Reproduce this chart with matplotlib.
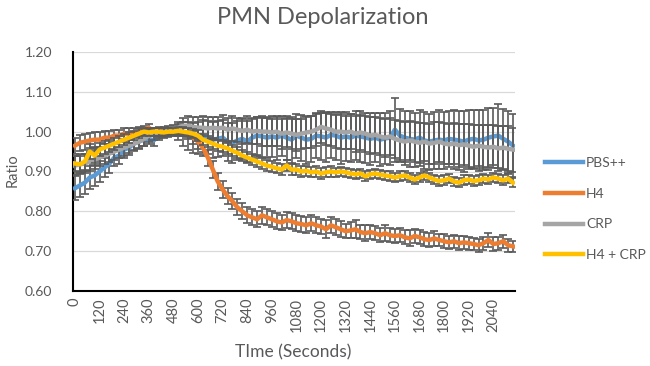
import matplotlib
matplotlib.use("Agg")
import matplotlib.pyplot as plt
from matplotlib.lines import Line2D
import numpy as np

plt.rcParams['font.family'] = ['Lato', 'DejaVu Sans']

title = "PMN Depolarization"
xlabel = "TIme (Seconds)"
ylabel = "Ratio"
time_step = 24
tick_labels = ["0", "120", "240", "360", "480", "600", "720", "840", "960", "1080",
               "1200", "1320", "1440", "1560", "1680", "1800", "1920", "2040"]
series_names = ["PBS++", "H4", "CRP", "H4 + CRP"]

pbs = [0.858, 0.865, 0.872, 0.885, 0.890, 0.900, 0.910, 0.920, 0.935, 0.940,
       0.955, 0.960, 0.970, 0.975, 0.980, 0.982, 0.978, 0.990, 0.995, 0.998,
       1.000, 1.000, 0.995, 0.990, 0.985, 0.985, 0.990, 0.985, 0.980, 0.982,
       0.985, 0.975, 0.972, 0.978, 0.982, 0.975, 0.985, 0.990, 0.988, 0.985,
       0.988, 0.985, 0.990, 0.985, 0.980, 0.990, 0.985, 0.980, 0.982, 0.990,
       0.988, 0.985, 0.992, 0.990, 0.985, 0.988, 0.985, 0.990, 0.988, 0.985,
       0.982, 0.985, 0.980, 0.983, 0.985, 1.005, 0.990, 0.985, 0.982, 0.980,
       0.985, 0.978, 0.975, 0.978, 0.980, 0.978, 0.982, 0.980, 0.978, 0.975,
       0.980, 0.982, 0.978, 0.980, 0.985, 0.988, 0.990, 0.982, 0.975, 0.965]

h4 = [0.965, 0.972, 0.975, 0.978, 0.980, 0.980, 0.985, 0.985, 0.990, 0.990,
      0.995, 0.995, 0.998, 1.000, 1.005, 1.010, 1.000, 1.000, 1.000, 1.000,
      1.000, 1.000, 1.000, 0.995, 0.985, 0.975, 0.960, 0.935, 0.905, 0.875,
      0.855, 0.838, 0.825, 0.810, 0.800, 0.790, 0.785, 0.780, 0.790, 0.785,
      0.780, 0.775, 0.772, 0.778, 0.775, 0.770, 0.768, 0.765, 0.770, 0.765,
      0.762, 0.755, 0.765, 0.760, 0.755, 0.750, 0.752, 0.755, 0.748, 0.745,
      0.748, 0.745, 0.740, 0.745, 0.740, 0.738, 0.740, 0.735, 0.732, 0.738,
      0.735, 0.730, 0.728, 0.732, 0.728, 0.725, 0.722, 0.725, 0.720, 0.722,
      0.720, 0.718, 0.715, 0.720, 0.728, 0.718, 0.720, 0.725, 0.715, 0.712]

crp = [0.915, 0.918, 0.920, 0.925, 0.930, 0.935, 0.940, 0.945, 0.950, 0.955,
       0.960, 0.965, 0.970, 0.975, 0.982, 0.990, 0.995, 0.998, 1.000, 1.002,
       1.005, 1.010, 1.015, 1.015, 1.012, 1.010, 1.010, 1.008, 1.010, 1.008,
       1.010, 1.005, 1.008, 1.005, 1.002, 1.005, 1.000, 1.002, 1.000, 1.000,
       0.998, 1.000, 0.995, 0.998, 0.995, 0.992, 0.995, 0.998, 1.000, 1.005,
       1.012, 1.008, 1.005, 1.000, 1.000, 0.998, 1.000, 0.995, 0.998, 0.995,
       0.990, 0.992, 0.988, 0.985, 0.988, 0.982, 0.978, 0.975, 0.978, 0.975,
       0.972, 0.975, 0.970, 0.972, 0.975, 0.970, 0.968, 0.970, 0.966, 0.968,
       0.965, 0.962, 0.965, 0.962, 0.960, 0.962, 0.958, 0.960, 0.957, 0.955]

h4_crp = [0.920, 0.918, 0.925, 0.950, 0.940, 0.955, 0.960, 0.965, 0.970, 0.975,
          0.980, 0.985, 0.990, 0.995, 1.000, 0.998, 1.000, 1.000, 0.998, 1.000,
          1.000, 1.002, 1.000, 0.998, 0.995, 0.990, 0.980, 0.975, 0.970, 0.965,
          0.962, 0.958, 0.952, 0.947, 0.940, 0.935, 0.930, 0.925, 0.920, 0.915,
          0.912, 0.908, 0.905, 0.915, 0.905, 0.905, 0.900, 0.902, 0.898, 0.900,
          0.895, 0.898, 0.900, 0.898, 0.900, 0.898, 0.895, 0.893, 0.895, 0.888,
          0.893, 0.895, 0.892, 0.890, 0.888, 0.885, 0.888, 0.890, 0.885, 0.880,
          0.885, 0.890, 0.885, 0.880, 0.876, 0.878, 0.882, 0.875, 0.872, 0.878,
          0.880, 0.876, 0.878, 0.882, 0.880, 0.885, 0.882, 0.878, 0.882, 0.872]

pbs_err = [0.030, 0.030, 0.028, 0.028, 0.027, 0.026, 0.025, 0.024, 0.022, 0.020,
           0.020, 0.018, 0.017, 0.016, 0.015, 0.014, 0.013, 0.012, 0.012, 0.011,
           0.010, 0.020, 0.030, 0.035, 0.038, 0.040, 0.040, 0.042, 0.045, 0.045,
           0.045, 0.048, 0.050, 0.048, 0.050, 0.052, 0.050, 0.048, 0.052, 0.050,
           0.052, 0.055, 0.050, 0.055, 0.058, 0.055, 0.058, 0.060, 0.058, 0.055,
           0.060, 0.062, 0.058, 0.060, 0.065, 0.062, 0.060, 0.062, 0.065, 0.063,
           0.065, 0.062, 0.066, 0.064, 0.068, 0.080, 0.066, 0.068, 0.070, 0.068,
           0.070, 0.072, 0.070, 0.072, 0.074, 0.072, 0.070, 0.074, 0.075, 0.076,
           0.074, 0.072, 0.076, 0.075, 0.074, 0.072, 0.080, 0.076, 0.078, 0.080]

h4_err = [0.020, 0.020, 0.020, 0.019, 0.018, 0.018, 0.017, 0.016, 0.015, 0.015,
          0.014, 0.013, 0.012, 0.012, 0.010, 0.008, 0.008, 0.008, 0.008, 0.008,
          0.008, 0.010, 0.012, 0.014, 0.016, 0.018, 0.020, 0.020, 0.022, 0.022,
          0.022, 0.020, 0.020, 0.020, 0.020, 0.020, 0.020, 0.020, 0.022, 0.020,
          0.020, 0.020, 0.020, 0.020, 0.020, 0.020, 0.020, 0.020, 0.020, 0.020,
          0.020, 0.022, 0.020, 0.020, 0.020, 0.018, 0.020, 0.022, 0.018, 0.020,
          0.018, 0.018, 0.018, 0.020, 0.018, 0.018, 0.018, 0.018, 0.020, 0.018,
          0.018, 0.018, 0.018, 0.018, 0.016, 0.018, 0.016, 0.016, 0.018, 0.016,
          0.016, 0.016, 0.016, 0.016, 0.018, 0.018, 0.016, 0.016, 0.016, 0.014]

crp_err = [0.025, 0.025, 0.024, 0.024, 0.023, 0.022, 0.022, 0.021, 0.020, 0.020,
           0.020, 0.019, 0.018, 0.018, 0.017, 0.016, 0.015, 0.014, 0.012, 0.012,
           0.012, 0.015, 0.020, 0.025, 0.025, 0.028, 0.030, 0.030, 0.028, 0.030,
           0.032, 0.030, 0.032, 0.030, 0.032, 0.034, 0.032, 0.034, 0.035, 0.036,
           0.035, 0.036, 0.038, 0.036, 0.038, 0.040, 0.038, 0.040, 0.040, 0.042,
           0.040, 0.042, 0.040, 0.042, 0.044, 0.042, 0.044, 0.045, 0.044, 0.045,
           0.046, 0.045, 0.046, 0.048, 0.046, 0.048, 0.048, 0.050, 0.048, 0.050,
           0.050, 0.048, 0.050, 0.052, 0.050, 0.052, 0.050, 0.052, 0.054, 0.052,
           0.054, 0.055, 0.052, 0.054, 0.056, 0.054, 0.056, 0.055, 0.056, 0.055]

h4_crp_err = [0.020, 0.020, 0.020, 0.018, 0.018, 0.017, 0.016, 0.015, 0.015, 0.014,
              0.014, 0.013, 0.012, 0.012, 0.010, 0.010, 0.010, 0.010, 0.010, 0.010,
              0.010, 0.010, 0.012, 0.012, 0.012, 0.013, 0.014, 0.014, 0.014, 0.014,
              0.014, 0.014, 0.014, 0.014, 0.014, 0.014, 0.014, 0.014, 0.014, 0.014,
              0.014, 0.013, 0.013, 0.013, 0.013, 0.013, 0.013, 0.013, 0.013, 0.013,
              0.013, 0.013, 0.013, 0.012, 0.012, 0.012, 0.012, 0.012, 0.012, 0.012,
              0.012, 0.012, 0.012, 0.012, 0.012, 0.012, 0.012, 0.012, 0.012, 0.012,
              0.012, 0.012, 0.012, 0.012, 0.012, 0.012, 0.012, 0.012, 0.012, 0.012,
              0.012, 0.012, 0.012, 0.012, 0.012, 0.012, 0.012, 0.012, 0.012, 0.012]

colors = ["#5B9BD5", "#ED7D31", "#A5A5A5", "#FFC000"]
text_color = "#595959"

fig = plt.figure(figsize=(6.5, 3.66), dpi=100)
ax = fig.add_axes([73/650, 1-291/366, (515-73)/650, (291-52)/366])

n = len(pbs)
x = np.arange(n)

all_vals = [pbs, h4, crp, h4_crp]
all_errs = [pbs_err, h4_err, crp_err, h4_crp_err]
for k, (vals, errs) in enumerate(zip(all_vals, all_errs)):
    ax.errorbar(x, vals, yerr=errs, color=colors[k], lw=3.2, ecolor="#5a5a5a",
                elinewidth=1.2, capsize=3, capthick=1.2, label=series_names[k],
                zorder=3 + k)

yt = np.arange(0.6, 1.201, 0.1)
ax.set_ylim(0.6, 1.2)
ax.set_yticks(yt)
ax.set_yticklabels([f"{v:.2f}" for v in yt])
ax.set_xlim(-0.4, 89.4)
tick_pos = [int(int(t) / time_step) for t in tick_labels]
ax.set_xticks(tick_pos)
ax.set_xticklabels(tick_labels, rotation=90)

ax.grid(axis='y', color="#D9D9D9", lw=0.9, zorder=0)
ax.set_axisbelow(True)
for s in ["top", "right"]:
    ax.spines[s].set_visible(False)
for s in ["left", "bottom"]:
    ax.spines[s].set_color("black")
    ax.spines[s].set_linewidth(1.5)
ax.tick_params(axis='both', length=0, colors=text_color)
ax.tick_params(axis='y', labelsize=10, pad=15)
ax.tick_params(axis='x', labelsize=10.5, pad=5)

fig.text(323/650, 1-17/366, title, ha='center', va='center', fontsize=17, color=text_color)
fig.text(293/650, 1-352/366, xlabel, ha='center', va='center', fontsize=12.5, color=text_color)
fig.text(13/650, 1-170/366, ylabel, ha='center', va='center', rotation=90, fontsize=10.5, color=text_color)

lh = [Line2D([0], [0], color=c, lw=3.2) for c in colors]
fig.legend(lh, series_names, loc='center left', bbox_to_anchor=(545/650, 1-209/366),
           frameon=False, fontsize=10, handlelength=2.7, handletextpad=0.25,
           labelspacing=1.35, borderpad=0, borderaxespad=0, labelcolor=text_color)

fig.savefig("out.png", dpi=100)
